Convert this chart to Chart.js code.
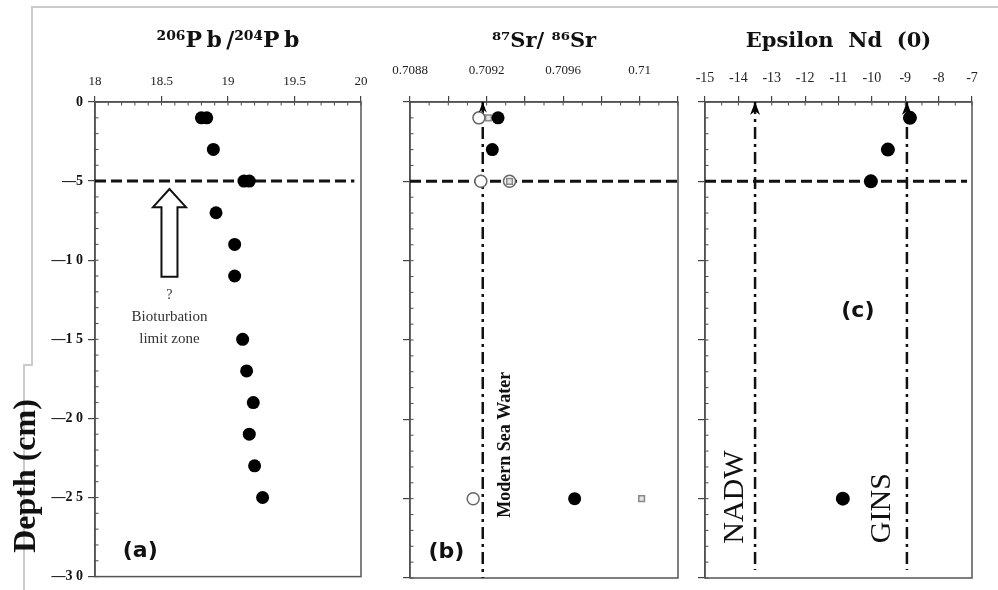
<!DOCTYPE html>
<html><head><meta charset="utf-8">
<script src="https://cdn.jsdelivr.net/npm/chart.js@4"></script>
<style>
html,body{margin:0;padding:0;background:#fff;width:998px;height:590px;overflow:hidden;position:relative}
.panel{position:absolute;top:0;height:590px}
.frame{position:absolute;background:#cbcbcb}
</style></head><body>
<div class="frame" style="left:32px;top:6px;width:966px;height:2px"></div>
<div class="frame" style="left:31px;top:6px;width:2px;height:360px"></div>
<div class="frame" style="left:23px;top:364px;width:10px;height:2px"></div>
<div class="frame" style="left:23px;top:364px;width:2px;height:226px"></div>
<div class="panel" style="left:0;width:385px"><canvas id="ca" width="385" height="590" style="width:385px;height:590px"></canvas></div>
<div class="panel" style="left:366px;width:334px"><canvas id="cb" width="334" height="590" style="width:334px;height:590px"></canvas></div>
<div class="panel" style="left:685px;width:313px"><canvas id="cc" width="313" height="590" style="width:313px;height:590px"></canvas></div>
<script>
// ---------- data ----------
const depthTickValues = [0, -5, -10, -15, -20, -25, -30];
const depthTickLabels = ['0', '—5', '—1 0', '—1 5', '—2 0', '—2 5', '—3 0'];

const pbTickValues = [18, 18.5, 19, 19.5, 20];
const pbTickLabels = ['18', '18.5', '19', '19.5', '20'];
const srTickValues = [0.7088, 0.7092, 0.7096, 0.7100];
const srTickLabels = ['0.7088', '0.7092', '0.7096', '0.71'];
const ndTickValues = [-15, -14, -13, -12, -11, -10, -9, -8, -7];
const ndTickLabels = ['-15', '-14', '-13', '-12', '-11', '-10', '-9', '-8', '-7'];

const pbDepth = [-1, -1, -3, -5, -5, -7, -9, -11, -15, -17, -19, -21, -23, -25];
const pbRatio = [18.80, 18.84, 18.89, 19.12, 19.16, 18.91, 19.05, 19.05, 19.11, 19.14, 19.19, 19.16, 19.20, 19.26];

const srFilledDepth = [-1, -3, -25];
const srFilled = [0.70926, 0.70923, 0.70966];
const srOpenDepth = [-1, -5, -5, -25];
const srOpen = [0.70916, 0.70917, 0.70932, 0.70913];
const srSquareDepth = [-1, -5, -25];
const srSquare = [0.70921, 0.70932, 0.71001];

const ndDepth = [-1, -3, -5, -25];
const ndEpsilon = [-8.86, -9.52, -10.03, -10.87];

const bioturbationDepth = -5;
const seaWaterSr = 0.70918;
const nadwNd = -13.5;
const ginsNd = -8.95;
const refLineBottom = -29.5;

// ---------- helpers ----------
const pts = (xs, ys) => xs.map((x, i) => ({ x: x, y: ys[i] }));
const labelFrom = (vals, labs) => (v) => {
  const i = vals.findIndex(t => Math.abs(t - v) < 1e-7);
  return i >= 0 ? labs[i] : '';
};
const SERIF = 'Liberation Serif';

function extras(ex) {
  return {
    id: 'extras',
    beforeDatasetsDraw(chart) {
      const ctx = chart.ctx, ca = chart.chartArea, xs = chart.scales.x, ys = chart.scales.y;
      ctx.save();
      ctx.strokeStyle = '#4a4a4a';
      ctx.lineWidth = 1;
      ctx.beginPath();
      for (let i = 0; ; i++) {
        const v = xs.min + i * ex.xMinor;
        if (v > xs.max + ex.xMinor * 1e-3) break;
        const p = xs.getPixelForValue(v);
        ctx.moveTo(p, ca.top); ctx.lineTo(p, ca.top + 3.5);
      }
      for (let i = 0; ; i++) {
        const v = ys.min + i * 1;
        if (v > ys.max + 1e-6) break;
        const p = ys.getPixelForValue(v);
        ctx.moveTo(ca.left, p); ctx.lineTo(ca.left + 3.5, p);
      }
      ctx.stroke();
      ctx.strokeStyle = '#555';
      ctx.lineWidth = 1.5;
      ctx.strokeRect(ca.left, ca.top, ca.right - ca.left, ca.bottom - ca.top);
      ctx.restore();
    },
    afterDatasetsDraw(chart) {
      const ctx = chart.ctx, xs = chart.scales.x, ys = chart.scales.y;
      ctx.save();
      chart.data.datasets.forEach((ds, i) => {
        if (!ds.arrowHead) return;
        const p = chart.getDatasetMeta(i).data[0];
        const w = ds.arrowHead, h = ds.arrowHead * 2.6;
        ctx.fillStyle = '#000';
        ctx.beginPath();
        ctx.moveTo(p.x, p.y);
        ctx.lineTo(p.x - w, p.y + h);
        ctx.lineTo(p.x, p.y + h * 0.7);
        ctx.lineTo(p.x + w, p.y + h);
        ctx.closePath();
        ctx.fill();
      });
      if (ex.hollowArrow) {
        const a = ex.hollowArrow;
        const x = xs.getPixelForValue(a.x);
        const t = ys.getPixelForValue(a.tip), hb = ys.getPixelForValue(a.head), b = ys.getPixelForValue(a.base);
        ctx.beginPath();
        ctx.moveTo(x, t);
        ctx.lineTo(x - a.headHalf, hb);
        ctx.lineTo(x - a.shaftHalf, hb);
        ctx.lineTo(x - a.shaftHalf, b);
        ctx.lineTo(x + a.shaftHalf, b);
        ctx.lineTo(x + a.shaftHalf, hb);
        ctx.lineTo(x + a.headHalf, hb);
        ctx.closePath();
        ctx.fillStyle = '#fff';
        ctx.fill();
        ctx.lineWidth = 2;
        ctx.strokeStyle = '#111';
        ctx.stroke();
      }
      (ex.texts || []).forEach(tx => {
        const x = xs.getPixelForValue(tx.x), y = ys.getPixelForValue(tx.y);
        ctx.save();
        ctx.translate(x, y);
        if (tx.rotate) ctx.rotate(tx.rotate);
        ctx.font = tx.font;
        ctx.fillStyle = tx.color || '#111';
        ctx.textAlign = 'center';
        ctx.textBaseline = 'middle';
        ctx.fillText(tx.text, 0, 0);
        ctx.restore();
      });
      (ex.pixelTexts || []).forEach(tx => {
        ctx.save();
        ctx.translate(tx.px, tx.py);
        if (tx.rotate) ctx.rotate(tx.rotate);
        ctx.font = tx.font;
        ctx.fillStyle = tx.color || '#111';
        ctx.textAlign = 'center';
        ctx.textBaseline = 'middle';
        ctx.fillText(tx.text, 0, 0);
        ctx.restore();
      });
      ctx.restore();
    }
  };
}

function makePanel(id, c) {
  const TITLE_FONT = c.titleSize || 21, TITLE_PAD = 29;
  const titleH = TITLE_FONT * 1.2 + TITLE_PAD;
  const chartTop = 102, chartBottom = 578;
  return new Chart(document.getElementById(id), {
    type: 'scatter',
    data: { datasets: c.datasets },
    options: {
      responsive: false,
      animation: false,
      events: [],
      layout: { padding: { left: 0, right: c.padRight, top: 0, bottom: 590 - chartBottom } },
      plugins: {
        legend: { display: false },
        tooltip: { enabled: false },
        title: {
          display: true, text: c.title, fullSize: false, color: '#111',
          font: { family: 'DejaVu Serif', weight: 'bold', size: TITLE_FONT },
          padding: { top: TITLE_PAD + (21 - TITLE_FONT) * 0.6, bottom: 0 }
        }
      },
      scales: {
        x: {
          type: 'linear', position: 'top', min: c.xMin, max: c.xMax,
          afterFit: s => { s.height = chartTop - titleH - (21 - TITLE_FONT) * 0.6; },
          ticks: {
            stepSize: c.xStep, autoSkip: false, maxRotation: 0, minRotation: 0,
            callback: c.xLabel, color: '#222', padding: c.xPad,
            font: { family: SERIF, size: c.xFont || 13, weight: c.xWeight || 'normal' }
          },
          grid: { drawOnChartArea: false, drawTicks: true, tickLength: 6, color: '#444', lineWidth: 1.2 },
          border: { display: true, color: '#444', width: 1.5 }
        },
        y: {
          type: 'linear', position: 'left', min: -30, max: 0,
          afterFit: s => { s.width = c.yWidth; },
          ticks: {
            stepSize: 5, autoSkip: false, display: c.yLabels, padding: 5,
            callback: labelFrom(depthTickValues, depthTickLabels), color: '#111',
            font: { family: SERIF, size: 14, weight: 'bold' }
          },
          grid: { drawOnChartArea: false, drawTicks: true, tickLength: 7, color: '#444', lineWidth: 1.2 },
          border: { display: true, color: '#444', width: 1.5 }
        }
      }
    },
    plugins: [extras(c.extras)]
  });
}

const filled = (data, r) => ({ data, pointRadius: r, pointBackgroundColor: '#000', pointBorderColor: '#000', pointBorderWidth: 0, showLine: false });
const hLine = (x0, x1) => ({ data: [{ x: x0, y: bioturbationDepth }, { x: x1, y: bioturbationDepth }], showLine: true, pointRadius: 0, borderColor: '#111', borderWidth: 3, borderDash: [11, 5] });
const vLine = (x, yb, head) => ({ data: [{ x: x, y: 0 }, { x: x, y: yb }], showLine: true, pointRadius: 0, borderColor: '#111', borderWidth: 2.5, borderDash: [12, 5, 3, 5], arrowHead: head });

// Panel (a)
makePanel('ca', {
  title: '²⁰⁶P\u2009b\u2009/²⁰⁴P\u2009b', titleSize: 22,
  xMin: 18, xMax: 20, xStep: 0.5, xPad: 7,
  xLabel: labelFrom(pbTickValues, pbTickLabels),
  yWidth: 95, yLabels: true, padRight: 24,
  datasets: [
    filled(pts(pbRatio, pbDepth), 6.5),
    hLine(18, 19.95)
  ],
  extras: {
    xMinor: 0.1,
    hollowArrow: { x: 18.56, tip: -5.5, head: -6.65, base: -11.05, headHalf: 16.5, shaftHalf: 8 },
    texts: [
      { text: '?', x: 18.56, y: -12.25, font: '14px ' + SERIF, color: '#333' },
      { text: 'Bioturbation', x: 18.56, y: -13.6, font: '15px ' + SERIF, color: '#333' },
      { text: 'limit zone', x: 18.56, y: -15.0, font: '15px ' + SERIF, color: '#333' },
      { text: '(a)', x: 18.34, y: -28.4, font: 'bold 22px "DejaVu Sans"' }
    ],
    pixelTexts: [
      { text: 'Depth (cm)', px: 27, py: 476, rotate: -Math.PI / 2, font: 'bold 32px ' + SERIF }
    ]
  }
});

// Panel (b)
makePanel('cb', {
  title: '⁸⁷Sr/ ⁸⁶Sr',
  xMin: 0.7088, xMax: 0.7102, xStep: 0.0002, xPad: 18,
  xLabel: labelFrom(srTickValues, srTickLabels),
  yWidth: 44, yLabels: false, padRight: 22,
  datasets: [
    filled(pts(srFilled, srFilledDepth), 6.5),
    { data: pts(srSquare, srSquareDepth), pointStyle: 'rect', pointRadius: 4, pointBackgroundColor: '#e4e4e4', pointBorderColor: '#888', pointBorderWidth: 1.5, showLine: false },
    { data: pts(srOpen, srOpenDepth), pointRadius: 6, pointBackgroundColor: '#fff', pointBorderColor: '#666', pointBorderWidth: 1.5, showLine: false },
    hLine(0.7088, 0.7102),
    vLine(seaWaterSr, -30, 4)
  ],
  extras: {
    xMinor: 0.0001,
    texts: [
      { text: 'Modern Sea Water', x: 0.70930, y: -21.6, rotate: -Math.PI / 2, font: 'bold 18px ' + SERIF },
      { text: '(b)', x: 0.70899, y: -28.4, font: 'bold 22px "DejaVu Sans"' }
    ]
  }
});

// Panel (c)
makePanel('cc', {
  title: 'Epsilon  Nd  (0)',
  xMin: -15, xMax: -7, xStep: 1, xPad: 9, xFont: 14,
  xLabel: labelFrom(ndTickValues, ndTickLabels),
  yWidth: 20, yLabels: false, padRight: 26,
  datasets: [
    filled(pts(ndEpsilon, ndDepth), 7),
    hLine(-15, -7.15),
    vLine(nadwNd, refLineBottom, 5),
    vLine(ginsNd, refLineBottom, 5)
  ],
  extras: {
    xMinor: 0.5,
    texts: [
      { text: 'NADW', x: -14.1, y: -24.9, rotate: -Math.PI / 2, font: '30px ' + SERIF },
      { text: 'GINS', x: -9.7, y: -25.6, rotate: -Math.PI / 2, font: '30px ' + SERIF },
      { text: '(c)', x: -10.42, y: -13.2, font: 'bold 22px "DejaVu Sans"' }
    ]
  }
});
</script>
</body></html>
